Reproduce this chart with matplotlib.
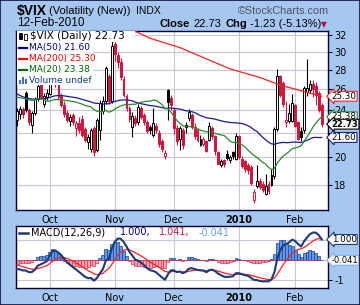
import numpy as np
import pandas as pd
import matplotlib
matplotlib.use('Agg')
import matplotlib.pyplot as plt
from matplotlib.patches import Rectangle
from matplotlib.transforms import blended_transform_factory
from matplotlib.ticker import FixedLocator, NullLocator, FixedFormatter

W, H = 360, 305

# closes before the visible window (Jul 7 - Sep 15 2009), needed for MA and MACD warm-up
hist_close = [30.85, 31.30, 29.78, 29.02, 26.31, 25.72, 25.89, 25.42, 24.34, 24.40,
              24.40, 24.48, 23.43, 23.09, 23.87, 24.58, 25.43, 25.56, 25.92,
              24.58, 24.93, 25.93, 26.40, 25.38, 25.28, 26.59, 25.33, 24.97, 25.01,
              27.99, 26.26, 25.12, 24.69, 25.01, 24.99, 24.61, 24.07, 24.56, 24.76, 26.01,
              29.15, 28.60, 26.73, 25.26, 25.36, 25.00, 24.20, 24.15, 24.12, 23.90]

# daily OHLC, 16-Sep-2009 .. 12-Feb-2010
opens = [23.1, 23.6, 24.1, 25.6, 24.0, 22.7, 23.7, 25.0, 26.4, 24.6,
         25.2, 25.5, 28.3, 28.6, 26.5, 25.3, 24.5, 23.7, 23.0, 23.5,
         22.4, 22.8, 23.2, 22.3, 21.2, 20.7, 22.4, 20.6, 22.2, 23.9,
         24.8, 27.3, 24.8, 30.9, 29.6, 28.9, 27.0, 25.3, 24.2, 22.5,
         23.3, 22.9, 24.2, 23.5, 22.9, 22.5, 21.8, 22.6, 22.0, 21.3,
         20.1, 25.9, 25.1, 24.0, 22.4, 21.5, 22.2, 22.7, 23.3, 23.5,
         22.5, 22.2, 21.0, 21.1, 21.3, 21.4, 22.4, 21.7, 20.4, 19.4,
         19.8, 20.3, 19.8, 20.4, 19.9, 21.7, 19.9, 19.7, 19.4, 19.3,
         17.0, 17.9, 18.3, 18.1, 17.4, 18.1, 18.0, 18.6, 22.3, 27.3,
         26.6, 22.9, 23.0, 23.0, 24.5, 22.9, 22.1, 22.2, 25.7, 25.9,
         26.5, 26.3, 25.6, 24.5]
highs = [24.2, 24.4, 24.3, 25.8, 24.2, 23.9, 25.2, 26.6, 26.8, 25.6,
         26.0, 28.6, 29.7, 28.8, 26.7, 25.6, 24.8, 24.0, 23.6, 23.7,
         23.0, 23.4, 23.5, 22.5, 21.9, 22.4, 22.6, 23.3, 24.9, 25.3,
         28.4, 27.6, 31.4, 31.3, 30.0, 29.3, 27.3, 25.5, 24.4, 23.8,
         23.5, 24.6, 24.4, 23.7, 23.1, 22.7, 24.2, 22.8, 22.2, 21.5,
         20.6, 26.0, 25.4, 24.2, 22.7, 22.6, 22.4, 22.9, 24.1, 23.7,
         22.8, 22.4, 21.8, 21.6, 21.4, 22.9, 22.6, 21.8, 20.5, 19.9,
         19.9, 20.6, 20.2, 20.5, 22.0, 21.8, 20.1, 19.8, 19.6, 19.4,
         17.7, 19.4, 18.5, 18.3, 18.8, 18.3, 19.1, 22.5, 28.1, 27.5,
         26.8, 24.8, 24.6, 25.5, 24.6, 23.0, 22.5, 26.3, 29.22, 26.9,
         26.9, 26.7, 25.8, 24.7]
lows = [22.6, 23.2, 23.3, 23.8, 22.7, 22.0, 23.5, 24.8, 25.0, 24.3,
        24.9, 25.4, 27.6, 26.2, 24.9, 24.3, 23.4, 22.9, 22.6, 22.7,
        21.7, 22.0, 21.6, 21.2, 20.7, 20.4, 20.1, 20.4, 21.4, 23.6,
        24.6, 24.6, 24.7, 29.0, 28.2, 26.9, 25.2, 23.9, 22.9, 21.6,
        22.6, 22.7, 23.2, 22.7, 22.0, 21.9, 21.6, 22.0, 20.8, 20.4,
        19.9, 23.1, 24.0, 21.9, 21.0, 20.6, 20.7, 22.0, 23.0, 22.3,
        21.5, 21.2, 20.9, 20.9, 20.4, 21.3, 21.5, 20.2, 19.5, 19.3,
        19.3, 19.8, 19.6, 19.9, 19.8, 19.9, 19.2, 18.9, 18.8, 18.0,
        16.8, 17.8, 17.7, 17.5, 17.3, 17.4, 17.9, 18.4, 22.1, 25.2,
        24.3, 22.5, 22.8, 22.9, 22.5, 21.4, 21.3, 22.0, 25.3, 25.6,
        25.2, 24.5, 23.8, 22.5]
closes = [23.9, 24.1, 23.6, 24.0, 22.9, 23.7, 25.0, 26.3, 25.2, 25.3,
          25.61, 28.27, 28.68, 26.5, 25.2, 24.5, 23.6, 23.1, 23.4, 22.9,
          22.8, 22.2, 21.8, 21.4, 21.6, 22.2, 20.4, 23.1, 24.7, 24.8,
          28.2, 24.8, 30.69, 29.78, 28.81, 27.2, 25.43, 24.19, 23.15, 23.46,
          22.84, 24.24, 23.36, 22.89, 22.14, 22.25, 22.8, 22.19, 21.10, 20.69,
          20.35, 24.74, 24.51, 22.4, 21.3, 22.4, 21.0, 22.46, 23.8, 22.5,
          21.7, 21.4, 21.5, 21.49, 20.54, 22.6, 21.68, 20.49, 19.54, 19.71,
          19.47, 19.93, 20.01, 20.1, 21.68, 20.04, 19.35, 19.16, 19.06, 18.13,
          17.55, 18.25, 17.85, 17.63, 17.91, 17.58, 18.68, 22.27, 27.31, 25.41,
          24.55, 23.14, 23.73, 24.62, 22.59, 21.48, 21.60, 26.08, 26.11, 26.51,
          26.00, 25.40, 23.96, 22.73]

# MA(200) at a few bars
ma200_bar = [38, 45, 55, 72, 82, 89, 103]
ma200_val = [32.8, 31.6, 30.5, 28.1, 27.2, 26.4, 25.3]

holidays = ['2009-11-26', '2009-12-25', '2010-01-01', '2010-01-18']
price_ticks = [18, 20, 22, 24, 26, 28, 30, 32]
price_labels = ['18', '20', '', '24', '26', '28', '30', '32']

dates = pd.bdate_range('2009-09-16', '2010-02-12')
dates = dates[~dates.isin(pd.to_datetime(holidays))]
n = len(dates)
x = np.arange(n)

full = pd.Series(hist_close + closes)
ma50 = full.rolling(50).mean().values[-n:]
ma20 = full.rolling(20).mean().values[-n:]
macd_s = full.ewm(span=12, adjust=False).mean() - full.ewm(span=26, adjust=False).mean()
sig_s = macd_s.ewm(span=9, adjust=False).mean()
macd = macd_s.values[-n:]
signal = sig_s.values[-n:]
histo = macd - signal

month_pos = [i for i in range(1, n) if dates[i].month != dates[i - 1].month]
month_lab = ['2010' if dates[i].month == 1 else dates[i].strftime('%b') for i in month_pos]

BG = '#a6c8f0'
RED = '#d4143c'
GRID = '#c6c6d6'
SPINE = '#000033'

fig = plt.figure(figsize=(W / 100, H / 100), dpi=100, facecolor=BG)


def fx(px):
    return px / W


def fy(py):
    return 1 - py / H


def axes_px(left, top, right, bottom):
    return fig.add_axes([fx(left), fy(bottom), (right - left) / W, (bottom - top) / H])


ax = axes_px(16, 31, 328, 210)
ax2 = axes_px(16, 226, 328, 288)

# candles
prev = [hist_close[-1]] + closes[:-1]
for i in range(n):
    o, h, l, c = opens[i], highs[i], lows[i], closes[i]
    col = 'black' if c >= prev[i] else RED
    ax.vlines(i, l, h, color=col, lw=0.8, zorder=2)
    lo, hi = min(o, c), max(o, c)
    fill = col if c < o else 'white'
    ax.add_patch(Rectangle((i - 0.32, lo), 0.64, max(hi - lo, 0.03), fc=fill, ec=col, lw=0.7, zorder=3))

ax.plot(x, ma50, color='#1a1a90', lw=0.9, zorder=4)
ax.plot(ma200_bar, ma200_val, color='#ff2020', lw=0.9, zorder=4)
ax.plot(x, ma20, color='#2a8a2a', lw=0.9, zorder=4)

ax.set_yscale('log')
ax.set_ylim(16.35, 32.5)
ax.set_xlim(-0.35, 105.1)
ax.yaxis.set_major_locator(FixedLocator(price_ticks))
ax.yaxis.set_major_formatter(FixedFormatter(price_labels))
ax.yaxis.set_minor_locator(NullLocator())
ax.yaxis.tick_right()
ax.set_xticks(month_pos)
ax.set_xticklabels(month_lab)
ax.grid(True, color=GRID, lw=0.8, zorder=0)
ax.set_axisbelow(True)

ax2.bar(x, np.where(histo > 0, histo, 0), width=1.0, color='#6097e8', edgecolor='#1c3f94', lw=0.5, zorder=2)
ax2.bar(x, np.where(histo < 0, histo, 0), width=1.0, color='#f4a6b2', edgecolor='#e03050', lw=0.5, zorder=2)
ax2.plot(x, signal, color='#ff2020', lw=0.9, zorder=3)
ax2.plot(x, macd, color='#1b3a78', lw=1.5, zorder=4)
ax2.set_xlim(-0.35, 105.1)
ax2.set_ylim(-1.425, 1.675)
ax2.yaxis.tick_right()
ax2.set_yticks([-1, 0, 1])
ax2.set_yticklabels(['-1', '', ''])
ax2.set_xticks(month_pos)
ax2.set_xticklabels(month_lab)
ax2.grid(True, color=GRID, lw=0.8, zorder=0)
ax2.set_axisbelow(True)

for a in (ax, ax2):
    for s in a.spines.values():
        s.set_color(SPINE)
        s.set_linewidth(1.0)
    a.tick_params(axis='y', direction='out', length=3, width=0.8, color=SPINE, labelsize=7, pad=1.5)
    a.tick_params(axis='x', length=0, labelsize=7, pad=3.6)
    for t in a.get_xticklabels():
        if t.get_text() == '2010':
            t.set_fontweight('bold')


# right-hand value tags
def tag(a, val, txt, ec, bold=False, size=6.3):
    tr = blended_transform_factory(a.transAxes, a.transData)
    a.text(1.012, val, txt, transform=tr, fontsize=size, va='center', ha='left',
           fontweight='bold' if bold else 'normal', zorder=10,
           bbox=dict(boxstyle='larrow,pad=0.05', fc='white', ec=ec, lw=0.8))


tag(ax, 25.30, '25.30', '#ff2020')
tag(ax, 23.38, '23.38', '#2a8a2a')
tag(ax, 21.60, '21.60', '#1a1a90')
tag(ax, 22.73, '22.73', 'black', bold=True, size=6.1)
tag(ax2, 1.000, '1.000', '#1b3a78')
tag(ax2, -0.041, '-0.041', '#7fb0f0', size=6.0)

# legend block inside the price panel
fig.patches.append(Rectangle((fx(17), fy(42)), (135 - 17) / W, 11 / H, transform=fig.transFigure,
                             fc='white', ec='none', zorder=1))
fig.patches.append(Rectangle((fx(17), fy(85)), (93 - 17) / W, 43 / H, transform=fig.transFigure,
                             fc='white', ec='none', zorder=1))
fig.text(fx(30), fy(36), '$VIX (Daily) 22.73', fontsize=7.5, va='center', color='black')
fig.patches.append(Rectangle((fx(19), fy(39)), 2.5 / W, 6 / H, transform=fig.transFigure,
                             fc='black', ec='black', lw=0.6, zorder=2))
fig.patches.append(Rectangle((fx(24), fy(40)), 2.5 / W, 6 / H, transform=fig.transFigure,
                             fc='white', ec='black', lw=0.6, zorder=2))
legend_rows = [('MA(50) 21.60', '#000080', 47.5), ('MA(200) 25.30', '#ff0000', 58.5),
               ('MA(20) 23.38', '#006400', 69.5)]
for txt, col, yy in legend_rows:
    fig.lines.append(plt.Line2D([fx(19), fx(27)], [fy(yy), fy(yy)], transform=fig.transFigure,
                                color=col, lw=1.6, zorder=2))
    fig.text(fx(29), fy(yy), txt, fontsize=6.5, va='center', color=col)
for k, hgt in enumerate([4, 7, 5]):
    fig.patches.append(Rectangle((fx(19 + 2.8 * k), fy(84)), 2.2 / W, hgt / H, transform=fig.transFigure,
                                 fc='#3a70c8', ec='none', zorder=2))
fig.text(fx(29), fy(80), 'Volume undef', fontsize=6.5, va='center', color='#104090')

# MACD legend
fig.lines.append(plt.Line2D([fx(19), fx(28)], [fy(232.5), fy(232.5)], transform=fig.transFigure,
                            color='#1b3a78', lw=1.8))
parts = [('MACD(12,26,9)', 'black', 31), ('1.000,', '#000080', 120),
         ('1.041,', '#e0103a', 159), ('-0.041', '#6aa0e8', 199)]
for txt, col, xx in parts:
    fig.text(fx(xx), fy(232.5), txt, fontsize=7, va='center', color=col)

# header
fig.text(fx(17), fy(10.5), '$VIX', fontsize=10, fontweight='bold', family='Liberation Sans', va='center')
fig.text(fx(49), fy(10.5), '(Volatility (New))', fontsize=8, family='Liberation Sans', va='center')
fig.text(fx(136), fy(10.5), 'INDX', fontsize=7.5, family='Liberation Sans', va='center')
fig.text(fx(17), fy(23.5), '12-Feb-2010', fontsize=8.5, family='Liberation Sans', va='center')
fig.text(fx(238), fy(11), '\u00a9StockCharts.com', fontsize=7.8, family='Liberation Sans',
         va='center', color='#505060')
fig.text(fx(160), fy(24), 'Close', fontsize=8, fontweight='bold', family='Liberation Sans', va='center')
fig.text(fx(193), fy(24), '22.73', fontsize=8, family='Liberation Sans', va='center')
fig.text(fx(225), fy(24), 'Chg', fontsize=8, fontweight='bold', family='Liberation Sans', va='center')
fig.text(fx(250), fy(24), '-1.23 (-5.13%)', fontsize=8, family='Liberation Sans', va='center')
fig.text(fx(321), fy(24.5), '\u25bc', fontsize=5.5, va='center', color='#b01040')

fig.patches.append(Rectangle((0, 0), 1, 1, transform=fig.transFigure, fc='none', ec='#101040', lw=1.2))

fig.savefig('out.png', dpi=100, facecolor=BG)
